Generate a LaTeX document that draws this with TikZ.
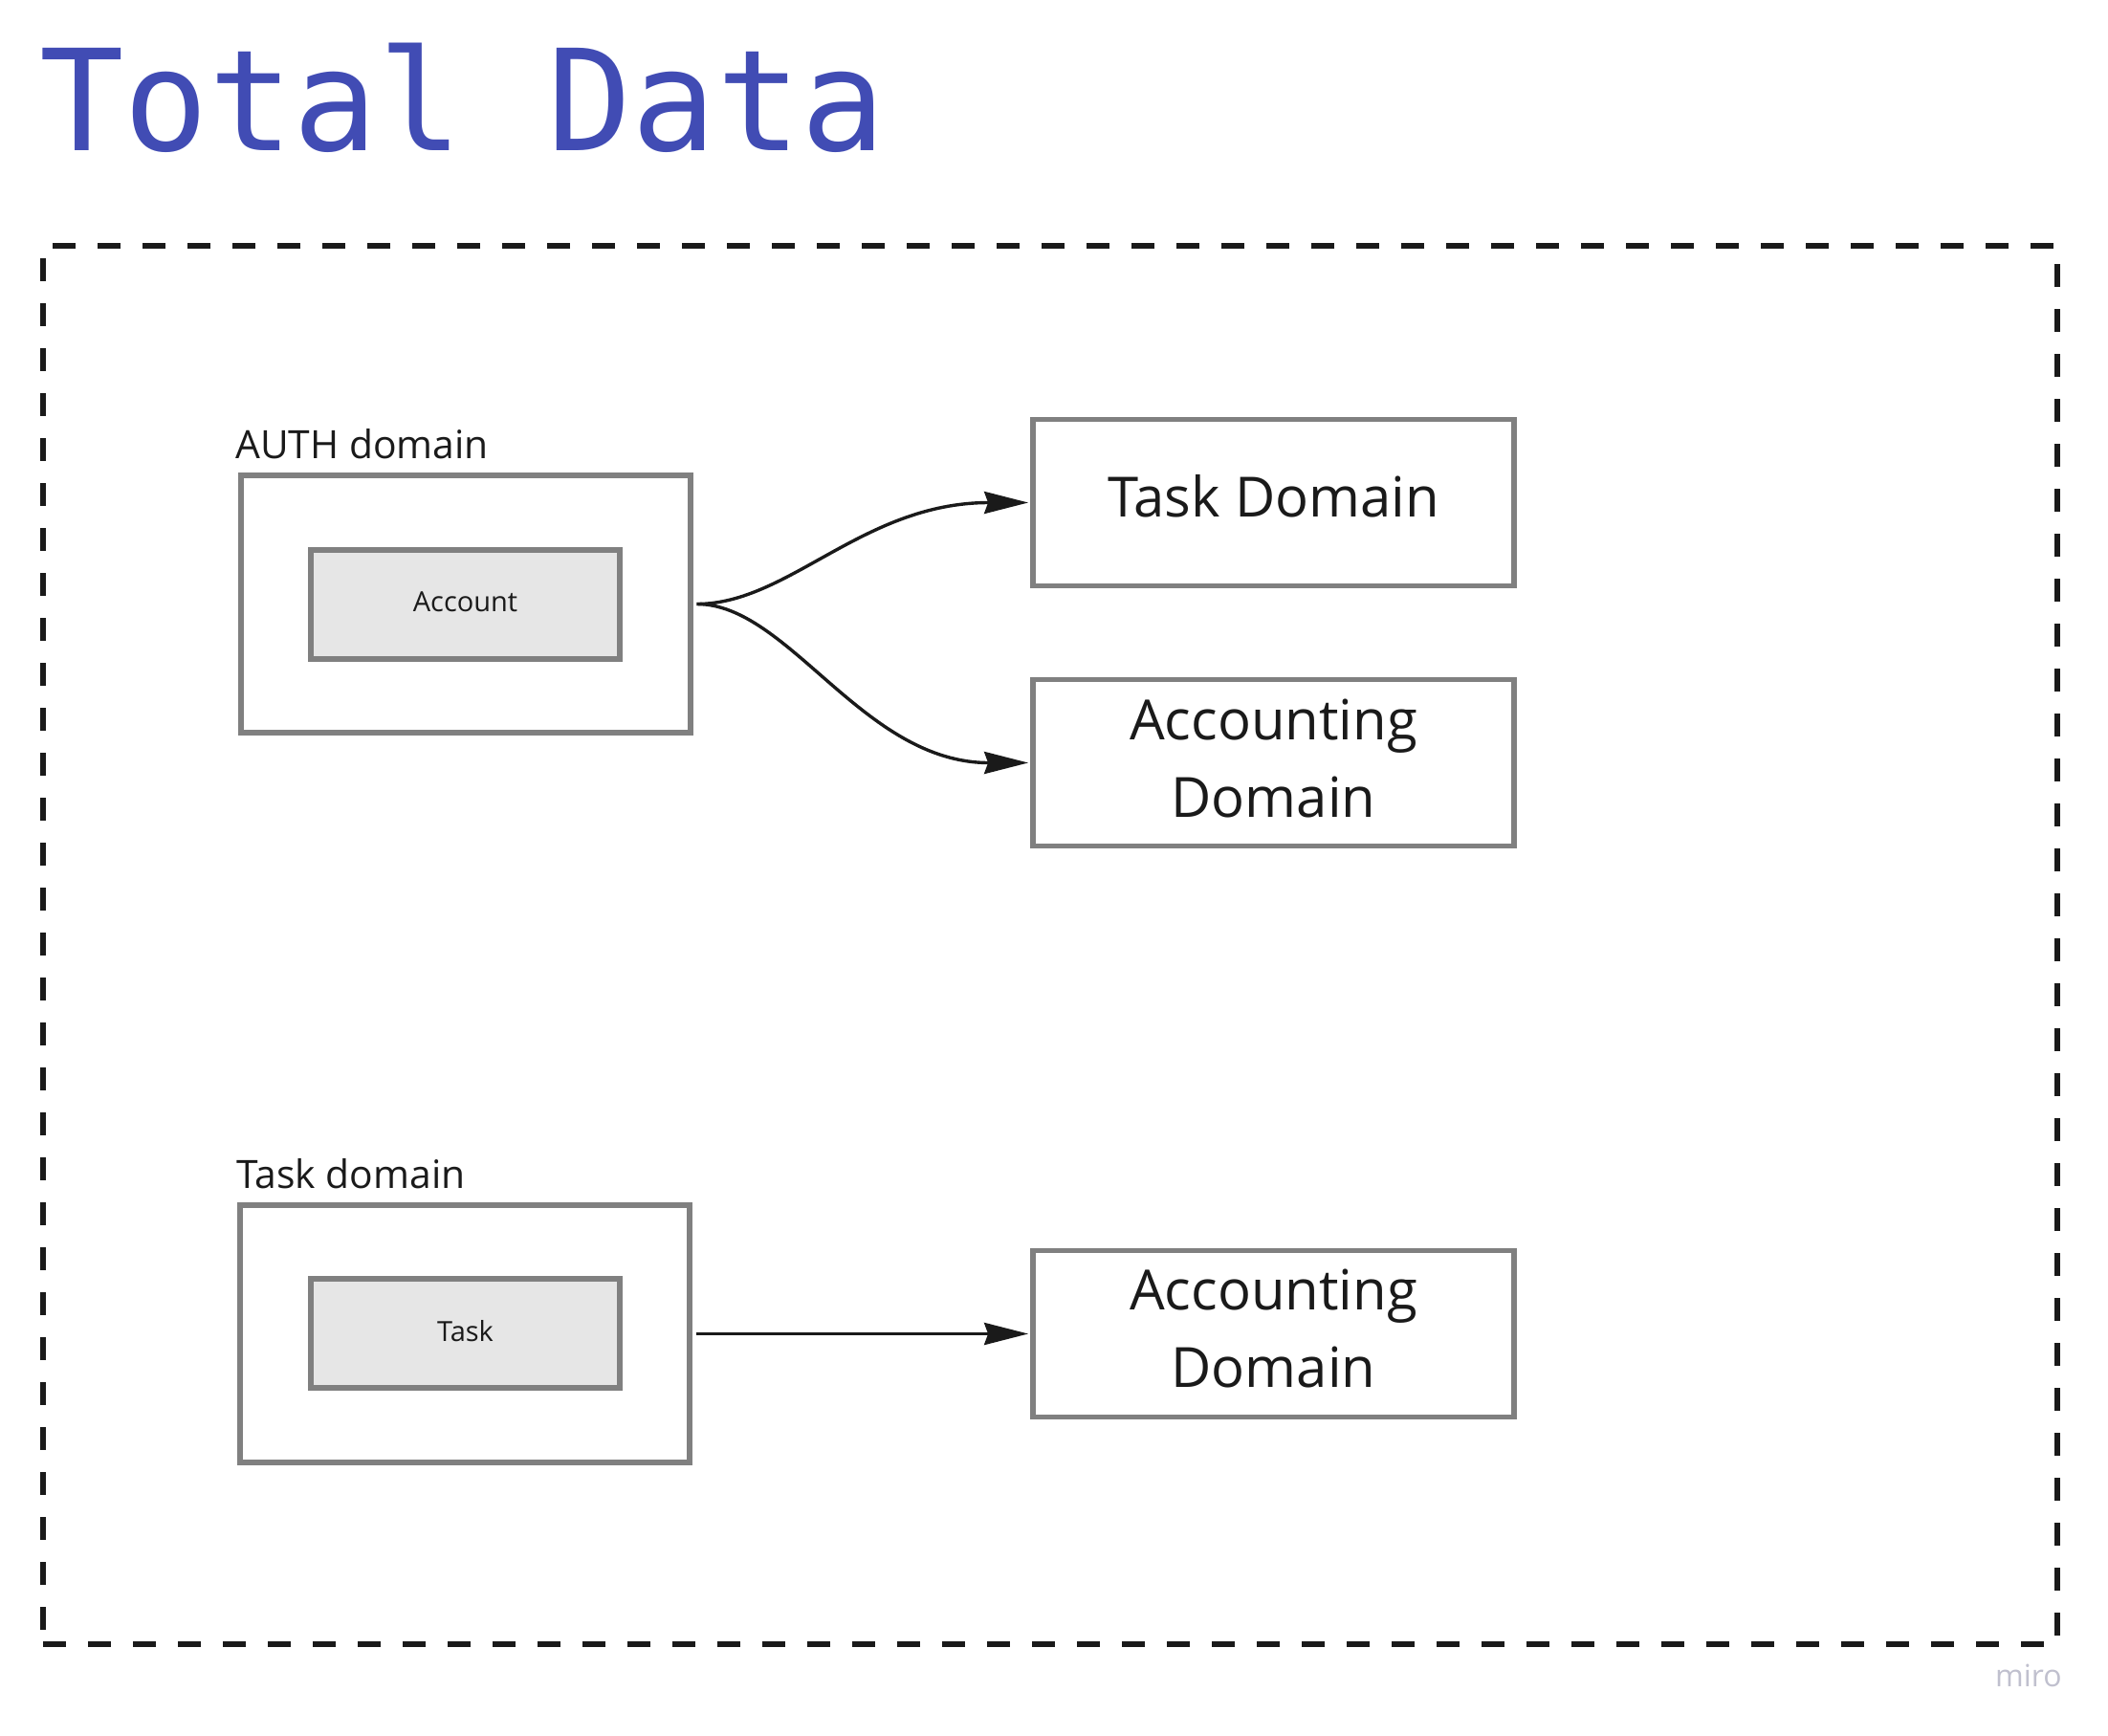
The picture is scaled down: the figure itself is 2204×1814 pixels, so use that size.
\documentclass[tikz,border=0pt]{standalone}
\usepackage{fontspec}
\setmainfont{Open Sans}
\newfontfamily\titlefont{DejaVu Sans Mono}
\usetikzlibrary{arrows.meta}
\definecolor{titleblue}{RGB}{65,76,180}
\definecolor{boxgray}{RGB}{128,128,128}
\definecolor{innerfill}{RGB}{230,230,230}
\definecolor{ink}{RGB}{26,26,26}
\definecolor{mirogray}{RGB}{192,192,206}
\begin{document}
\begin{tikzpicture}[x=0.5pt,y=-0.5pt,
  framebox/.style={draw=ink,line width=2.8pt,dash pattern=on 12pt off 11.5pt,inner sep=0pt,
    minimum width=1053pt,minimum height=731pt},
  outerbox/.style={draw=boxgray,line width=2.7pt,fill=white,inner sep=0pt,
    minimum width=235pt,minimum height=134.5pt},
  innerbox/.style={draw=boxgray,line width=2.7pt,fill=innerfill,inner sep=0pt,
    minimum width=161.5pt,minimum height=57pt},
  domainbox/.style={draw=boxgray,line width=2.7pt,fill=white,inner sep=0pt,
    minimum width=251.5pt,minimum height=87pt},
  txt/.style={anchor=base,inner sep=0pt,text=ink},
  grouplabel/.style={anchor=base west,inner sep=0pt,text=ink,font=\fontsize{20.4pt}{24pt}\selectfont},
  smalltxt/.style={txt,font=\fontsize{14.5pt}{17pt}\selectfont},
  bigtxt/.style={txt,font=\fontsize{29pt}{34pt}\selectfont},
  conn/.style={-{Stealth[length=23pt,width=11.5pt,inset=2pt]},line width=1.7pt,draw=ink,
    shorten <=1.9pt,shorten >=1.1pt}
]
\useasboundingbox (0,0) rectangle (2204,1814);

% title
\node[anchor=base west,inner sep=0pt,text=titleblue,
  font=\titlefont\fontsize{73.5pt}{74pt}\selectfont] (title) at (41,157) {Total Data};

% dashed frame
\node[framebox] (frame) at (1098,988) {};

% AUTH domain group
\node[grouplabel] (authlabel) at (246,479) {AUTH domain};
\node[outerbox] (auth) at (487,631.5) {};
\node[innerbox] (account) at (486.5,632) {};
\node[smalltxt] (accounttxt) at (486.5,639) {Account};

% Task domain group
\node[grouplabel] (tasklabel) at (247,1242) {Task domain};
\node[outerbox] (task) at (486,1394.5) {};
\node[innerbox] (taskinner) at (486.5,1394) {};
\node[smalltxt] (tasktxt) at (486.5,1402) {Task};

% right boxes
\node[domainbox] (taskD) at (1331.5,525.5) {};
\node[bigtxt] (taskDtxt) at (1331.5,540) {Task Domain};

\node[domainbox] (accD1) at (1331.5,797.5) {};
\node[bigtxt] (accD1a) at (1331.5,773) {Accounting};
\node[bigtxt] (accD1b) at (1331.5,854) {Domain};

\node[domainbox] (accD2) at (1331.5,1394.5) {};
\node[bigtxt] (accD2a) at (1331.5,1369) {Accounting};
\node[bigtxt] (accD2b) at (1331.5,1450) {Domain};

% connectors
\draw[conn] (auth.east) .. controls +(100,0) and +(-175,0) .. (taskD.west);
\draw[conn] (auth.east) .. controls +(100,0) and +(-175,0) .. (accD1.west);
\draw[conn] (task.east) -- (accD2.west);

% watermark
\node[anchor=base east,inner sep=0pt,text=mirogray,
  font=\fontsize{16pt}{16pt}\selectfont] (miro) at (2156,1763) {miro};
\end{tikzpicture}
\end{document}
